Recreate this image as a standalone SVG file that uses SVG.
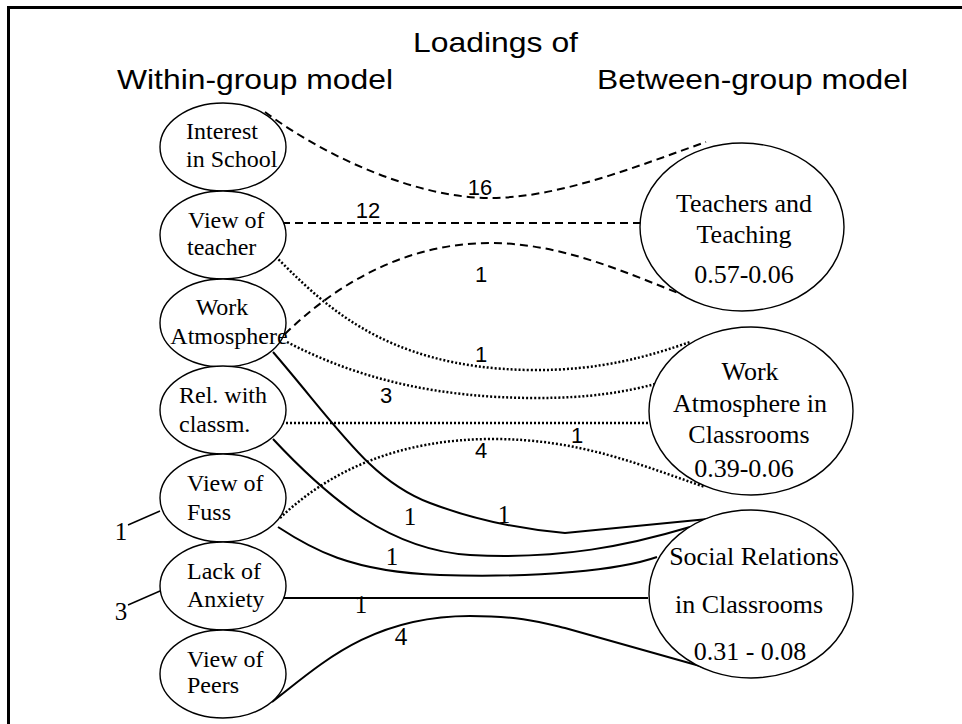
<svg xmlns="http://www.w3.org/2000/svg" width="962" height="724" viewBox="0 0 962 724">
<style>
.node{fill:#fff;stroke:#000;stroke-width:1.4}
.nt{font-family:"Liberation Serif","Times New Roman",serif;font-size:24px;fill:#000}
.rt{font-family:"Liberation Serif","Times New Roman",serif;font-size:26px;fill:#000;text-anchor:middle}
.title{font-family:"Liberation Sans",Arial,sans-serif;font-size:28px;fill:#000}
.el{font-family:"Liberation Sans",Arial,sans-serif;font-size:22px;fill:#000;text-anchor:middle}
.sl{font-family:"Liberation Serif","Times New Roman",serif;font-size:25px;fill:#000;text-anchor:middle}
.dash{fill:none;stroke:#000;stroke-width:2;stroke-dasharray:8 5}
.dot{fill:none;stroke:#000;stroke-width:2.5;stroke-dasharray:2 2}
.solid{fill:none;stroke:#000;stroke-width:2}
.thin{fill:none;stroke:#000;stroke-width:1.4}
</style>
<rect width="962" height="724" fill="#fff"/>
<g id="frame">
<path d="M8.5,724 V7.5 H962" fill="none" stroke="#000" stroke-width="3"/>
</g>
<g id="titles">
<text class="title" x="413" y="52" textLength="165" lengthAdjust="spacingAndGlyphs">Loadings of</text>
<text class="title" x="117" y="89" textLength="276" lengthAdjust="spacingAndGlyphs">Within-group model</text>
<text class="title" x="597" y="89" textLength="311" lengthAdjust="spacingAndGlyphs">Between-group model</text>
</g>
<g id="connectors">
<path class="dash" d="M265,112 C330,160 420,198 490,198 C560,198 640,165 706,142"/>
<path class="dash" d="M282,223 H642"/>
<path class="dash" d="M285,334 C330,290 400,243 490,243 C575,243 650,285 706,303"/>
<path class="dot" d="M273,254 C320,300 380,368 530,370 C600,371 650,356 690,342"/>
<path class="dot" d="M287,342 C360,380 440,398 537,398 C590,398 625,392 655,384"/>
<path class="dot" d="M282,423 H648"/>
<path class="dot" d="M280,518 C330,470 400,439 493,439 C580,439 640,465 705,487"/>
<path class="solid" d="M273,352 C340,430 370,480 430,503 C480,522 530,530 565,533 L708,519"/>
<path class="solid" d="M273,439 C330,500 390,550 470,555 C560,560 630,545 690,527"/>
<path class="solid" d="M278,527 C310,548 350,572 440,575 C540,578 620,570 657,557"/>
<path class="solid" d="M282,598 H648"/>
<path class="solid" d="M272,702 C320,665 370,616 470,616 C520,616 540,622 565,628 L707,668"/>
<path class="thin" d="M128,525 L160,511"/>
<path class="thin" d="M128,605 L160,591"/>
</g>
<g id="edge-labels">
<text class="el" x="480" y="195">16</text>
<text class="el" x="368" y="218">12</text>
<text class="el" x="481" y="282">1</text>
<text class="el" x="481" y="362">1</text>
<text class="el" x="386" y="403">3</text>
<text class="el" x="577" y="443">1</text>
<text class="el" x="481" y="458">4</text>
<text class="sl" x="504" y="523">1</text>
<text class="sl" x="410" y="525">1</text>
<text class="sl" x="392" y="565">1</text>
<text class="sl" x="361" y="613">1</text>
<text class="sl" x="401" y="645">4</text>
<text class="sl" x="121" y="540">1</text>
<text class="sl" x="121" y="620">3</text>
</g>
<g id="interest">
<ellipse class="node" cx="223" cy="147" rx="63" ry="44"/>
<text class="nt" x="186" y="139">Interest</text>
<text class="nt" x="186" y="167">in School</text>
</g>
<g id="view-teacher">
<ellipse class="node" cx="223" cy="235" rx="63" ry="44"/>
<text class="nt" x="188" y="228">View of</text>
<text class="nt" x="187" y="255">teacher</text>
</g>
<g id="work-atmosphere">
<ellipse class="node" cx="223" cy="323" rx="63" ry="44"/>
<text class="nt" x="222" y="315" text-anchor="middle">Work</text>
<text class="nt" x="229" y="344" text-anchor="middle">Atmosphere</text>
</g>
<g id="rel-classm">
<ellipse class="node" cx="223" cy="410" rx="63" ry="44"/>
<text class="nt" x="179" y="403">Rel. with</text>
<text class="nt" x="179" y="432">classm.</text>
</g>
<g id="view-fuss">
<ellipse class="node" cx="223" cy="498" rx="63" ry="44"/>
<text class="nt" x="187" y="491">View of</text>
<text class="nt" x="187" y="520">Fuss</text>
</g>
<g id="lack-anxiety">
<ellipse class="node" cx="223" cy="586" rx="63" ry="44"/>
<text class="nt" x="187" y="579">Lack of</text>
<text class="nt" x="187" y="607">Anxiety</text>
</g>
<g id="view-peers">
<ellipse class="node" cx="223" cy="674" rx="63" ry="44"/>
<text class="nt" x="187" y="667">View of</text>
<text class="nt" x="187" y="693">Peers</text>
</g>
<g id="teachers-teaching">
<ellipse class="node" cx="742" cy="227" rx="102" ry="84"/>
<text class="rt" x="744" y="212">Teachers and</text>
<text class="rt" x="744" y="243">Teaching</text>
<text class="rt" x="744" y="283">0.57-0.06</text>
</g>
<g id="work-atmosphere-classrooms">
<ellipse class="node" cx="751" cy="411" rx="102" ry="84"/>
<text class="rt" x="750" y="380">Work</text>
<text class="rt" x="750" y="412">Atmosphere in</text>
<text class="rt" x="749" y="443">Classrooms</text>
<text class="rt" x="744" y="477">0.39-0.06</text>
</g>
<g id="social-relations">
<ellipse class="node" cx="751" cy="594" rx="102" ry="84"/>
<text class="rt" x="754" y="565">Social Relations</text>
<text class="rt" x="749" y="613">in Classrooms</text>
<text class="rt" x="750" y="660">0.31 - 0.08</text>
</g>
</svg>
